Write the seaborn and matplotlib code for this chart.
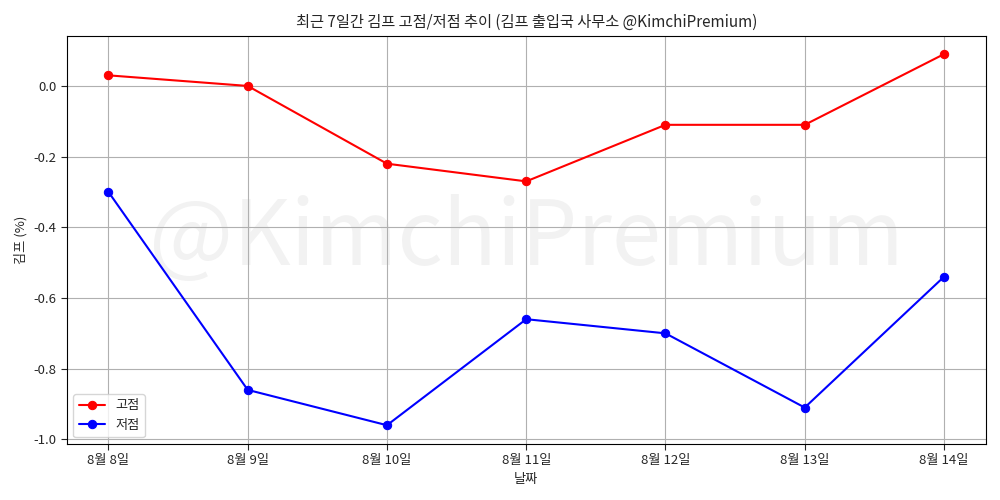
import pandas as pd
import matplotlib.pyplot as plt
import seaborn as sns

# data
dates = ['8월 8일', '8월 9일', '8월 10일', '8월 11일', '8월 12일', '8월 13일', '8월 14일']
high = [0.03, 0.0, -0.22, -0.27, -0.11, -0.11, 0.09]
low = [-0.30, -0.86, -0.96, -0.66, -0.70, -0.91, -0.54]

sns.set_style("white")
plt.rcParams['font.family'] = ['Noto Sans CJK KR', 'DejaVu Sans']
plt.rcParams['axes.unicode_minus'] = False
plt.rcParams['font.size'] = 9.5

df = pd.DataFrame({'날짜': dates, '고점': high, '저점': low})

fig, ax = plt.subplots(figsize=(10, 5), dpi=100)
ax.text(0.5, 0.5, '@KimchiPremium', transform=ax.transAxes, fontsize=64,
        color='gray', alpha=0.1, ha='center', va='center', zorder=0)
sns.lineplot(x='날짜', y='고점', data=df, marker='o', color='red', label='고점',
             markeredgecolor='red', markersize=6, sort=False, ax=ax)
sns.lineplot(x='날짜', y='저점', data=df, marker='o', color='blue', label='저점',
             markeredgecolor='blue', markersize=6, sort=False, ax=ax)
ax.grid(True, color='#b0b0b0')
for s in ax.spines.values():
    s.set_color('black')
ax.tick_params(left=True, bottom=True, length=4)
ax.set_title('최근 7일간 김프 고점/저점 추이 (김프 출입국 사무소 @KimchiPremium)', fontsize=11)
ax.set_xlabel('날짜')
ax.set_ylabel('김프 (%)')
ax.legend(loc='lower left')
fig.tight_layout()
fig.savefig('out.png')
